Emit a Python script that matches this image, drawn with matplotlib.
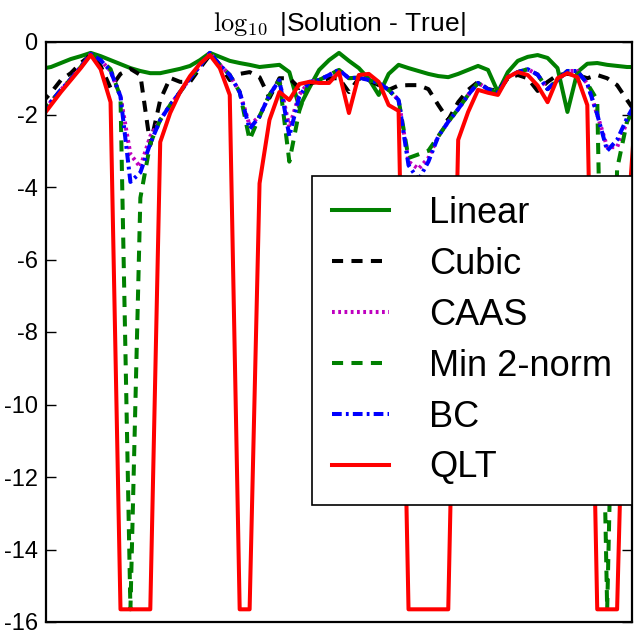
import matplotlib
matplotlib.use("Agg")
import matplotlib.pyplot as plt
import numpy as np

plt.rcParams["font.family"] = ["Liberation Sans", "DejaVu Sans"]
plt.rcParams["mathtext.fontset"] = "cm"
plt.rcParams["axes.unicode_minus"] = False
plt.rcParams["lines.scale_dashes"] = False

FLOOR = -15.65  # log10 of machine epsilon

# cell index; first and last entries are ghost cells beyond the plotted range
cell = np.arange(-1, 60)

linear = [
    -0.74, -0.69, -0.58, -0.47, -0.39, -0.30, -0.39, -0.50, -0.61, -0.72,
    -0.80, -0.86, -0.86, -0.80, -0.74, -0.66, -0.50, -0.30, -0.41, -0.52,
    -0.58, -0.63, -0.69, -0.66, -0.63, -0.83, -1.80, -1.27, -0.77, -0.50,
    -0.30, -0.52, -0.72, -1.02, -1.46, -0.88, -0.63, -0.72, -0.80, -0.88,
    -0.94, -0.97, -0.88, -0.77, -0.66, -0.77, -1.38, -0.83, -0.52, -0.41,
    -0.36, -0.44, -0.72, -1.93, -0.83, -0.60, -0.58, -0.63, -0.66, -0.69,
    -0.69,
]
cubic = [
    -1.70, -1.40, -1.05, -0.86, -0.58, -0.36, -0.66, -1.27, -0.88, -0.74,
    -0.91, -2.84, -1.60, -0.99, -1.10, -1.10, -0.72, -0.36, -0.63, -1.05,
    -0.88, -0.83, -0.97, -1.54, -1.00, -1.00, -1.27, -1.15, -1.08, -1.00,
    -1.00, -1.38, -1.00, -1.05, -1.19, -1.32, -1.20, -1.19, -1.19, -1.30,
    -1.74, -2.15, -1.66, -1.32, -1.10, -1.30, -1.35, -1.00, -0.91, -1.00,
    -1.35, -1.10, -0.91, -0.88, -0.91, -1.00, -0.91, -1.00, -1.19, -1.60,
    -2.00,
]
caas = [
    -1.95, -1.65, -1.32, -1.02, -0.69, -0.33, -0.50, -0.80, -1.50, -3.10,
    -3.45, -2.60, -2.15, -1.74, -1.38, -1.00, -0.66, -0.30, -0.63, -0.91,
    -1.38, -2.30, -2.05, -1.46, -1.05, -2.35, -1.45, -1.10, -1.05, -0.91,
    -0.77, -1.00, -0.98, -1.05, -1.13, -1.32, -1.60, -3.30, -3.50, -3.20,
    -2.60, -2.20, -1.85, -1.46, -1.13, -1.30, -1.40, -0.97, -0.83, -0.75,
    -0.90, -1.30, -1.05, -0.80, -0.80, -1.15, -2.00, -2.90, -2.90, -2.20,
    -1.70,
]
min2norm = [
    -1.95, -1.65, -1.32, -1.02, -0.69, -0.33, -0.50, -0.75, -1.52, FLOOR,
    -4.30, -2.80, -2.15, -1.74, -1.38, -1.00, -0.66, -0.30, -0.63, -0.91,
    -1.38, -2.70, -2.05, -1.46, -1.05, -3.30, -1.90, -1.10, -1.05, -0.91,
    -0.77, -1.00, -0.98, -1.05, -1.13, -1.32, -1.60, -3.20, -3.10, -3.00,
    -2.60, -2.20, -1.85, -1.46, -1.13, -1.30, -1.40, -0.97, -0.83, -0.75,
    -0.90, -1.30, -1.05, -0.80, -0.80, -1.15, -1.60, FLOOR, -3.50, -2.20,
    -1.70,
]
bc = [
    -1.95, -1.65, -1.32, -1.02, -0.69, -0.33, -0.50, -0.80, -1.50, -3.86,
    -3.60, -2.80, -2.15, -1.74, -1.38, -1.00, -0.66, -0.30, -0.63, -0.91,
    -1.38, -2.40, -2.05, -1.46, -1.05, -2.60, -1.50, -1.10, -1.05, -0.91,
    -0.77, -1.00, -0.98, -1.05, -1.13, -1.32, -1.60, -3.40, -3.80, -3.30,
    -2.60, -2.20, -1.85, -1.46, -1.13, -1.30, -1.40, -0.97, -0.83, -0.75,
    -0.90, -1.30, -1.05, -0.80, -0.80, -1.15, -2.00, -3.00, -2.70, -2.10,
    -1.60,
]
qlt = [
    -2.10, -1.74, -1.38, -1.05, -0.72, -0.36, -0.75, -1.66, FLOOR, FLOOR,
    FLOOR, FLOOR, -2.76, -1.96, -1.38, -0.94, -0.60, -0.36, -0.72, -1.46,
    FLOOR, FLOOR, -3.90, -2.15, -1.38, -1.60, -1.16, -1.10, -1.13, -1.13,
    -0.83, -1.96, -0.91, -0.88, -1.10, -1.74, -1.90, FLOOR, FLOOR, FLOOR,
    FLOOR, FLOOR, -2.70, -1.93, -1.32, -1.40, -1.46, -0.97, -0.83, -0.91,
    -1.20, -1.66, -1.00, -0.86, -0.97, -1.74, FLOOR, FLOOR, FLOOR, -5.20,
    -1.30,
]

series = [
    ("Linear", linear, dict(color="g", linestyle="-")),
    ("Cubic", cubic, dict(color="k", dashes=(8, 6))),
    ("CAAS", caas, dict(color=(0.75, 0, 0.75), dashes=(2, 2.5))),
    ("Min 2-norm", min2norm, dict(color="g", dashes=(8, 6))),
    ("BC", bc, dict(color="b", dashes=(7, 3, 2, 3))),
    ("QLT", qlt, dict(color="r", linestyle="-")),
]

fig = plt.figure(figsize=(6.34, 6.36), dpi=100)
ax = fig.add_axes([46 / 634, 14 / 636, 586 / 634, 580 / 636])

for label, values, style in series:
    ax.plot(cell, values, label=label, linewidth=2.9, **style)

ax.set_xlim(-0.5, 58.5)
ax.set_ylim(-16, 0)
ax.set_yticks(np.arange(-16, 1, 2))
ax.set_xticks([])
ax.tick_params(axis="y", which="both", direction="in", left=True, right=True,
               length=7, width=1, labelsize=17, pad=6)
for spine in ax.spines.values():
    spine.set_linewidth(1.6)

ax.set_title(r"$\log_{10}$ |Solution - True|", fontsize=19, pad=8)

leg = ax.legend(loc="center right", bbox_to_anchor=(1.0, 0.485), borderaxespad=0,
                fontsize=26, handlelength=1.6, handletextpad=1.1, labelspacing=0.44,
                borderpad=0.55, fancybox=False, framealpha=1, edgecolor="k")
leg.get_frame().set_linewidth(1.2)

fig.savefig("out.png", dpi=100)
